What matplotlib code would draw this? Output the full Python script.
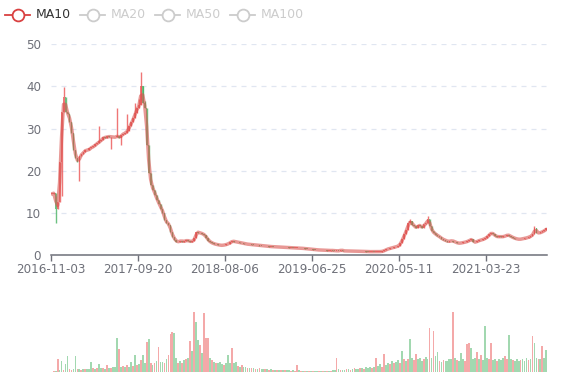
import numpy as np
import pandas as pd
import matplotlib
matplotlib.use("Agg")
import matplotlib.pyplot as plt
from matplotlib.lines import Line2D

# 周线收盘价
close = [
    14.5, 14.8, 11.0, 12.5, 22.0, 34.0, 37.5, 34.0, 33.5, 31.5,
    29.0, 25.0, 23.0, 22.0, 23.5, 24.0, 24.5, 25.0, 24.8, 25.3,
    25.6, 25.8, 26.3, 26.6, 27.0, 27.4, 28.0, 27.8, 28.2, 28.0,
    28.1, 27.9, 28.0, 28.3, 27.8, 28.5, 28.8, 29.0, 29.5, 30.5,
    31.5, 32.5, 33.8, 35.0, 35.5, 40.0, 36.0, 35.0, 26.0, 19.5,
    16.5, 15.5, 14.2, 13.0, 12.0, 11.0, 10.0, 8.2, 7.6, 7.2,
    5.5, 4.3, 3.6, 3.1, 3.2, 3.4, 3.2, 3.3, 3.5, 3.3,
    3.2, 3.3, 4.0, 5.5, 5.3, 5.2, 5.0, 4.7, 4.0, 3.4,
    3.0, 2.8, 2.6, 2.5, 2.4, 2.3, 2.3, 2.4, 2.5, 2.7,
    3.0, 3.3, 3.2, 3.1, 3.0, 2.9, 2.8, 2.7, 2.6, 2.55,
    2.5, 2.45, 2.4, 2.35, 2.3, 2.25, 2.2, 2.1, 2.1, 2.05,
    2.0, 2.0, 1.95, 1.9, 1.9, 1.85, 1.85, 1.8, 1.8, 1.8,
    1.75, 1.75, 1.7, 1.7, 1.7, 1.65, 1.6, 1.55, 1.5, 1.45,
    1.4, 1.35, 1.3, 1.25, 1.2, 1.2, 1.15, 1.1, 1.1, 1.05,
    1.05, 1.1, 1.05, 1.0, 1.0, 0.98, 1.2, 1.0, 0.95, 0.95,
    0.95, 0.95, 0.9, 0.9, 0.9, 0.88, 0.85, 0.85, 0.85, 0.82,
    0.8, 0.8, 0.8, 0.78, 0.8, 0.8, 0.82, 0.9, 1.1, 1.35,
    1.5, 1.6, 1.75, 1.9, 2.0, 2.2, 2.8, 3.8, 4.9, 6.0,
    7.5, 8.0, 7.2, 6.9, 6.3, 7.2, 6.8, 6.5, 7.3, 7.5,
    8.6, 6.8, 5.6, 5.2, 4.8, 4.5, 4.2, 3.8, 3.6, 3.4,
    3.2, 3.3, 3.4, 3.2, 3.0, 2.8, 2.8, 2.9, 3.0, 3.1,
    3.3, 3.5, 3.8, 3.0, 3.1, 3.3, 3.5, 3.6, 3.8, 4.0,
    4.4, 4.9, 5.3, 4.9, 4.5, 4.3, 4.4, 4.3, 4.4, 4.5,
    4.8, 4.6, 4.3, 4.1, 3.9, 3.8, 3.7, 3.8, 3.9, 4.0,
    4.1, 4.3, 4.5, 5.0, 6.3, 5.3, 5.2, 5.4, 5.6, 5.9,
    6.3,
]

# 成交量 (相对值)
volume = [
    2, 3, 4, 41, 6, 35, 8, 26, 51, 10,
    8, 9, 51, 10, 9, 8, 10, 9, 11, 10,
    33, 12, 10, 14, 26, 12, 13, 11, 23, 14,
    12, 16, 15, 106, 72, 18, 20, 15, 22, 18,
    33, 20, 54, 22, 25, 39, 54, 28, 94, 103,
    30, 23, 28, 35, 80, 32, 33, 30, 40, 54,
    120, 127, 122, 45, 28, 35, 30, 39, 40, 44,
    96, 65, 187, 158, 101, 85, 60, 184, 106, 106,
    44, 38, 33, 30, 28, 33, 25, 22, 30, 54,
    28, 75, 30, 33, 20, 18, 22, 16, 15, 14,
    12, 14, 12, 11, 10, 12, 10, 9, 11, 9,
    8, 9, 8, 7, 8, 7, 6, 7, 6, 6,
    6, 5, 6, 5, 22, 6, 5, 5, 4, 5,
    4, 5, 4, 4, 5, 4, 4, 5, 4, 4,
    5, 4, 6, 8, 45, 10, 7, 8, 6, 9,
    10, 8, 9, 12, 10, 9, 12, 14, 10, 15,
    14, 16, 13, 15, 44, 20, 25, 18, 57, 22,
    30, 25, 35, 28, 32, 38, 30, 65, 40, 36,
    42, 103, 45, 38, 57, 40, 45, 35, 42, 48,
    40, 137, 45, 128, 50, 62, 35, 32, 38, 34,
    36, 40, 42, 187, 44, 38, 34, 59, 40, 35,
    88, 90, 75, 42, 45, 62, 40, 54, 38, 144,
    45, 40, 90, 38, 42, 36, 40, 38, 45, 51,
    40, 116, 42, 38, 35, 40, 36, 38, 40, 34,
    44, 38, 42, 113, 90, 45, 40, 42, 82, 45,
    70,
]

# 成交量柱颜色: r=涨 g=跌
volume_dir = (
    "grgrggrggr" "rggrgrgrgg" "grgrggrgrg" "rgggrgrgrg" "grgrgrggrg"
    "rgrgrggrgr" "rrggrgrgrg" "rgrggrgrrr" "grgrgggrgg" "grggrgrggr"
    "grgrgrggrg" "rgrgrgrgrg" "grgrrgrgrg" "rgrggrgrgr" "grggrgrggr"
    "grgrggrgrg" "ggrgrggrrg" "grgrggrgrg" "rggrrgggrg" "grgrggrgrg"
    "gggrgrgggr" "rrgggrgrgg" "grrggrgggr" "rggrgggrgg" "grgrggrgrg"
    "g"
)

# 影线的最高/最低价
wick_high = {6: 39.8, 24: 30.7, 33: 35.0, 38: 33.5, 42: 36.0, 44: 37.0,
             45: 43.5, 47: 36.5, 181: 8.5, 190: 9.3, 244: 6.8}
wick_low = {2: 7.7, 5: 14.0, 14: 17.5, 30: 25.2, 35: 26.0}

tick_labels = ["2016-11-03", "2017-09-20", "2018-08-06",
               "2019-06-25", "2020-05-11", "2021-03-23"]
legend_names = ["MA10", "MA20", "MA50", "MA100"]

UP = "#eb5454"
DOWN = "#47b262"
TXT = "#6e7079"

n = len(close)
x = np.arange(n)
c = np.array(close)
o = np.concatenate([[c[0]], c[:-1]])
up = c >= o
hi = np.maximum(o, c)
lo = np.minimum(o, c)
for k, v in wick_high.items():
    hi[k] = v
for k, v in wick_low.items():
    lo[k] = v
ma10 = pd.Series(c).rolling(2, min_periods=1).mean()
colors = np.where(up, UP, DOWN)
vcolors = [UP if d == "r" else DOWN for d in volume_dir]

fig = plt.figure(figsize=(5.77, 3.80), dpi=100)
ax = fig.add_axes([50.7/577, 1-255/380, 496.6/577, (255-44.3)/380])
axv = fig.add_axes([50.7/577, 1-372.3/380, 496.6/577, 72/380])

# K线
ax.vlines(x, lo, hi, colors=colors, linewidth=1.0, alpha=0.8, zorder=2)
ax.bar(x, np.maximum(np.abs(c - o), 0.1), bottom=np.minimum(o, c),
       width=0.85, color=colors, alpha=0.75, linewidth=0, zorder=2)
ax.plot(x, ma10, color="#d9534f", lw=2.5, alpha=0.6, zorder=3,
        solid_capstyle="round")

ax.set_xlim(-0.5, n - 0.5)
ax.set_ylim(0, 50)
ax.set_yticks([0, 10, 20, 30, 40, 50])
ax.yaxis.grid(True, linestyle=(0, (4, 4)), color="#e0e6f1", lw=0.9)
ax.set_axisbelow(True)
for s in ["top", "right", "left"]:
    ax.spines[s].set_visible(False)
ax.spines["bottom"].set_color(TXT)
ax.spines["bottom"].set_linewidth(1.1)
ax.set_xticks([-0.5 + 44*k for k in range(len(tick_labels))])
ax.set_xticklabels(tick_labels)
ax.tick_params(axis="x", length=4, width=1, color=TXT, labelcolor=TXT,
               labelsize=8.6, pad=1.5)
ax.tick_params(axis="y", length=0, labelcolor=TXT, labelsize=8.6, pad=7)

# 成交量
axv.bar(x, volume, width=0.9, color=vcolors, alpha=0.5, linewidth=0)
axv.set_xlim(-0.5, n - 0.5)
axv.set_ylim(0, 187 * 72 / 60)
axv.axis("off")

# 图例
lx = [5, 80, 155, 230]
for i, name in enumerate(legend_names):
    col = "#d94040" if i == 0 else "#cccccc"
    tcol = "#333333" if i == 0 else "#cccccc"
    x0 = lx[i] / 577
    fig.add_artist(Line2D([x0, x0 + 25/577], [1-15/380]*2, color=col, lw=1.3,
                          transform=fig.transFigure))
    fig.add_artist(Line2D([x0 + 12.5/577], [1-15/380], marker="o",
                          markersize=8.5, markerfacecolor="white",
                          markeredgecolor=col, markeredgewidth=1.3,
                          transform=fig.transFigure))
    fig.text(x0 + 31/577, 1-15/380, name, color=tcol, fontsize=9,
             va="center", ha="left")

fig.savefig("out.png", dpi=100)
